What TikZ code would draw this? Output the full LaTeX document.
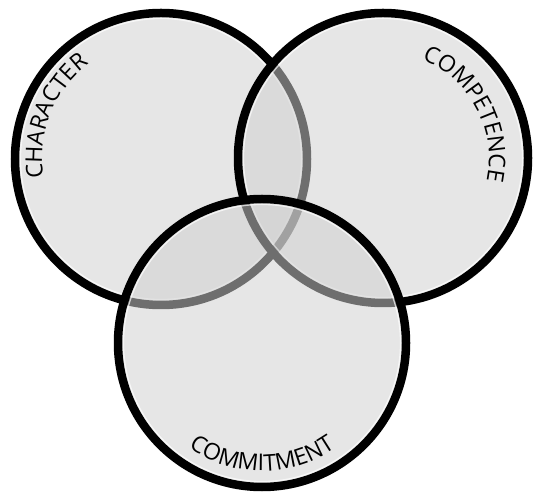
\documentclass[tikz,border=0pt]{standalone}
\usepackage{fontspec}
\usetikzlibrary{decorations.text}
\newfontfamily\lblfam{Open Sans}
\newcommand\lblfont{\lblfam\fontsize{23}{27}\selectfont}
\definecolor{cfill}{RGB}{208,208,208}
\tikzset{
  ringfill/.style={fill=cfill, fill opacity=0.53},
  ring/.style={draw=black, line width=8.5pt},
  rim/.style={draw=white, line width=1.2pt, opacity=0.7},
}
\begin{document}
\begin{tikzpicture}[x=1pt,y=1pt]
\useasboundingbox (0,0) rectangle (535,495);
\coordinate (L) at (161,336);
\coordinate (R) at (383,337);
\coordinate (B) at (262,152);
% left circle
\fill[ringfill] (L) circle[radius=146];
\draw[ring] (L) circle[radius=146];
\draw[rim] (L) circle[radius=140.5];
% right circle
\fill[ringfill] (R) circle[radius=145];
\draw[ring] (R) circle[radius=145];
\draw[rim] (R) circle[radius=139.5];
% bottom circle
\fill[ringfill] (B) circle[radius=144];
\draw[ring] (B) circle[radius=144];
\draw[rim] (B) circle[radius=138.5];
% labels
\path[decorate, decoration={text along path, text align=center,
  text={|\lblfont|CHARACTER}}]
  (L) ++(205:119) arc[start angle=205, end angle=111, radius=119];
\path[decorate, decoration={text along path, text align=center,
  text={|\lblfont|COMPETENCE}}]
  (R) ++(75:106) arc[start angle=75, end angle=-19, radius=106];
\path[decorate, decoration={text along path, text align=center,
  text={|\lblfont|COMMITMENT}}]
  (B) ++(225:128) arc[start angle=225, end angle=315, radius=128];
\end{tikzpicture}
\end{document}
